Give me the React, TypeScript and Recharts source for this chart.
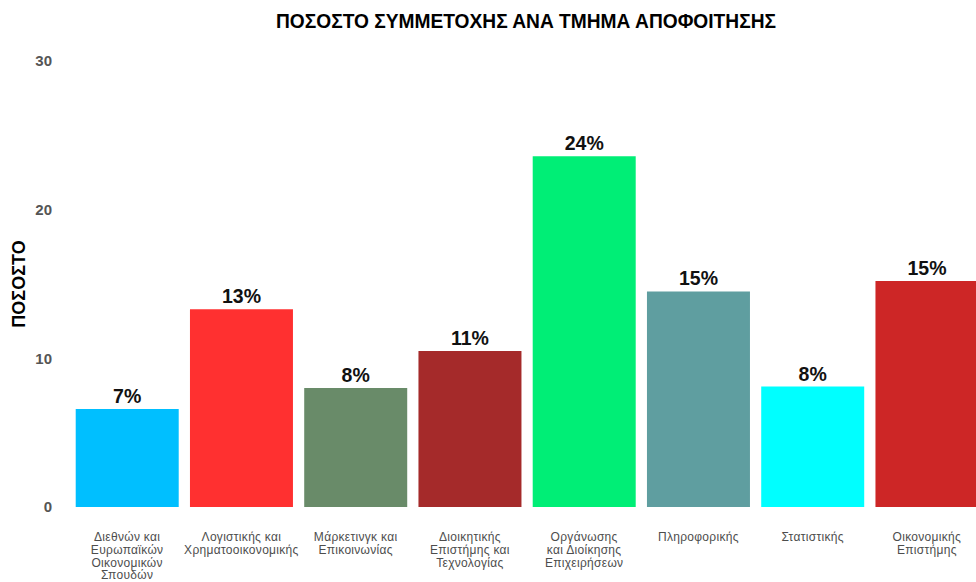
import { Bar, BarChart, Cell, LabelList, XAxis, YAxis } from 'recharts';

// department names, line breaks as in the original chart
const departments = [
  'Διεθνών και\nΕυρωπαϊκών\nΟικονομικών\nΣπουδών',
  'Λογιστικής και\nΧρηματοοικονομικής',
  'Μάρκετινγκ και\nΕπικοινωνίας',
  'Διοικητικής\nΕπιστήμης και\nΤεχνολογίας',
  'Οργάνωσης\nκαι Διοίκησης\nΕπιχειρήσεων',
  'Πληροφορικής',
  'Στατιστικής',
  'Οικονομικής\nΕπιστήμης',
];
const shares = [6.6, 13.3, 8.0, 10.5, 23.6, 14.5, 8.1, 15.2];
const yTicks = [0, 10, 20, 30];
const COLORS = ['#00bfff', '#ff3030', '#698b69', '#a52a2a', '#00ee76', '#5f9ea0', '#00ffff', '#cd2626'];

const data = departments.map((name, i) => ({ name, share: shares[i] }));

const FONT = '"Liberation Sans", Arial, Helvetica, sans-serif';

function DeptTick({ x, y, payload }: any) {
  const lines = String(payload.value).split('\n');
  return (
    <text x={x} y={y} textAnchor="middle" fill="#4d4d4d" fontSize={12} letterSpacing={0.3} fontFamily={FONT}>
      {lines.map((line, i) => (
        <tspan key={i} x={x} dy={i === 0 ? 34 : 12.8}>
          {line}
        </tspan>
      ))}
    </text>
  );
}

function AxisTitle({ viewBox }: any) {
  const cx = 19;
  const cy = viewBox.y + viewBox.height / 2;
  return (
    <text
      x={cx}
      y={cy}
      transform={`rotate(-90 ${cx} ${cy})`}
      textAnchor="middle"
      dominantBaseline="central"
      fontSize={18}
      fontWeight="bold"
      fontFamily={FONT}
      fill="#000"
    >
      ΠΟΣΟΣΤΟ
    </text>
  );
}

export default function App() {
  return (
    <div style={{ position: 'absolute', left: 0, top: 0, width: 976, height: 582, overflow: 'hidden', background: '#fff' }}>
      <svg width={976} height={40} style={{ position: 'absolute', left: 0, top: 0 }}>
        <text
          x={526}
          y={28}
          textAnchor="middle"
          fontSize={21}
          fontWeight="bold"
          fontFamily='"Liberation Sans Narrow", "Liberation Sans", Arial, sans-serif'
          textLength={500}
          lengthAdjust="spacingAndGlyphs"
          fill="#000"
        >
          ΠΟΣΟΣΤΟ ΣΥΜΜΕΤΟΧΗΣ ΑΝΑ ΤΜΗΜΑ ΑΠΟΦΟΙΤΗΣΗΣ
        </text>
      </svg>
      <BarChart
        width={990}
        height={582}
        data={data}
        margin={{ top: 61, right: 6, bottom: 0, left: 0 }}
        barCategoryGap="5%"
      >
        <XAxis
          dataKey="name"
          interval={0}
          height={75}
          tickLine={false}
          axisLine={false}
          tickSize={0}
          tickMargin={0}
          tick={<DeptTick />}
        />
        <YAxis
          width={70}
          domain={[0, 30]}
          ticks={yTicks}
          tickLine={false}
          axisLine={false}
          tickSize={0}
          tickMargin={18}
          tick={{ fill: '#555', fontSize: 15, fontWeight: 'bold', fontFamily: FONT }}
          label={{ content: <AxisTitle /> }}
        />
        <Bar dataKey="share" isAnimationActive={false}>
          <LabelList
            dataKey="share"
            position="top"
            offset={6}
            formatter={(v: any) => `${Math.round(Number(v))}%`}
            style={{ fill: '#111', fontSize: 19.5, fontWeight: 'bold', fontFamily: FONT }}
          />
          {data.map((entry, index) => (
            <Cell key={entry.name} fill={COLORS[index % COLORS.length]} />
          ))}
        </Bar>
      </BarChart>
    </div>
  );
}
